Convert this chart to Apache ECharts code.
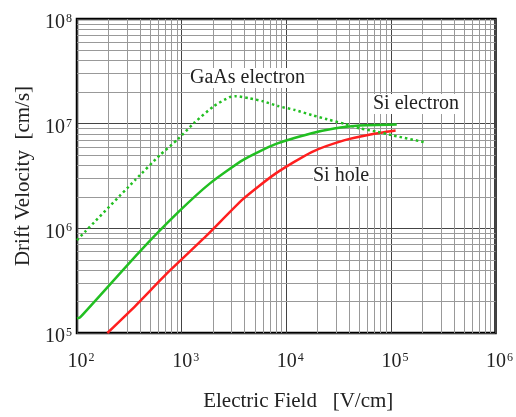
<!DOCTYPE html>
<html>
<head>
<meta charset="utf-8">
<script src="https://cdn.jsdelivr.net/npm/echarts@6/dist/echarts.min.js"></script>
<style>
  html, body { margin: 0; padding: 0; background: #fff; }
  #chart { width: 516px; height: 417px; }
</style>
</head>
<body>
<div id="chart"></div>
<script>
// Electric field [V/cm] and drift velocity [cm/s] samples for each carrier
const siElectronField = [100, 107, 388, 918, 1866, 3880, 7890, 17500, 28700, 47100, 113800];
const siElectronVel   = [1.38e5, 1.41e5, 5.84e5, 1.41e6, 2.69e6, 4.51e6, 6.37e6, 8.1e6, 9.0e6, 9.57e6, 9.8e6];

const siHoleField = [195, 364, 740, 1750, 3880, 7890, 17500, 35600, 63700, 111000];
const siHoleVel   = [1.0e5, 1.83e5, 3.79e5, 8.6e5, 1.91e6, 3.33e6, 5.36e6, 6.93e6, 7.89e6, 8.6e6];

const gaasField = [100, 364, 622, 918, 1321, 2030, 2870, 3340, 4410, 5970, 8420, 12130, 17500, 24700, 35600, 51300, 72400, 104500, 212000];
const gaasVel   = [7.73e5, 2.93e6, 5.02e6, 7.08e6, 1.02e7, 1.47e7, 1.79e7, 1.83e7, 1.75e7, 1.64e7, 1.47e7, 1.35e7, 1.21e7, 1.10e7, 1.0e7, 8.98e6, 8.41e6, 7.72e6, 6.64e6];

// Decade exponents shown on the axes
const xTickExps = [2, 3, 4, 5, 6];
const yTickExps = [5, 6, 7, 8];

const seriesNames = ['Si electron', 'Si hole', 'GaAs electron'];

const pair = (xs, ys) => xs.map((x, i) => [x, ys[i]]);

// Intermediate log-grid values (2..9 within every decade)
function minorValues(exps) {
  const out = [];
  for (let e = exps[0]; e < exps[exps.length - 1]; e++) {
    for (let m = 2; m <= 9; m++) out.push(m * Math.pow(10, e));
  }
  return out;
}
const minorLines = [
  ...minorValues(xTickExps).map(v => ({ xAxis: v })),
  ...minorValues(yTickExps).map(v => ({ yAxis: v }))
];

const powLabel = v => '{b|10}{s|' + Math.round(Math.log10(v)) + '}';
const serif = '"Liberation Serif", "DejaVu Serif", serif';
const labelRich = {
  b: { fontFamily: serif, fontSize: 20, color: '#222' },
  s: { fontFamily: serif, fontSize: 12, color: '#222', verticalAlign: 'top', padding: [0, 0, 0, 1] }
};

const GREEN = '#22bf22';
const RED = '#ff1f1f';

const chart = echarts.init(document.getElementById('chart'), null, { renderer: 'canvas' });
chart.setOption({
  animation: false,
  backgroundColor: '#fff',
  grid: {
    left: 77, top: 19, right: 10, bottom: 77,
    show: true, borderColor: '#000', borderWidth: 2.5, backgroundColor: 'transparent'
  },
  xAxis: {
    type: 'log', logBase: 10,
    min: Math.pow(10, xTickExps[0]), max: Math.pow(10, xTickExps[xTickExps.length - 1]),
    name: 'Electric Field   [V/cm]',
    nameLocation: 'middle', nameGap: 58,
    nameTextStyle: { fontFamily: serif, fontSize: 21, color: '#222', padding: [0, 0, 0, 24] },
    axisLine: { show: false },
    axisTick: { show: false },
    axisLabel: { formatter: powLabel, rich: labelRich, margin: 19, padding: [0, 0, 0, 8] },
    splitLine: { show: true, lineStyle: { color: '#444', width: 1 } },
    minorSplitLine: { show: false }
  },
  yAxis: {
    type: 'log', logBase: 10,
    min: Math.pow(10, yTickExps[0]), max: Math.pow(10, yTickExps[yTickExps.length - 1]),
    name: 'Drift Velocity  [cm/s]',
    nameLocation: 'middle', nameGap: 43, nameRotate: 90,
    nameTextStyle: { fontFamily: serif, fontSize: 21, color: '#222' },
    axisLine: { show: false },
    axisTick: { show: false },
    axisLabel: { formatter: powLabel, rich: labelRich, margin: 5, padding: [8, 0, 0, 0] },
    splitLine: { show: true, lineStyle: { color: '#444', width: 1 } }
  },
  series: [
    {
      // minor log grid
      type: 'line', data: [], z: 1, silent: true,
      markLine: {
        silent: true, symbol: 'none', animation: false,
        label: { show: false },
        lineStyle: { color: '#999', width: 1, type: 'solid' },
        data: minorLines
      }
    },
    {
      name: seriesNames[0], type: 'line', z: 5,
      data: pair(siElectronField, siElectronVel),
      showSymbol: false, smooth: 0.2,
      lineStyle: { color: GREEN, width: 2.5 }
    },
    {
      name: seriesNames[1], type: 'line', z: 5,
      data: pair(siHoleField, siHoleVel),
      showSymbol: false, smooth: 0.2,
      lineStyle: { color: RED, width: 2.5 }
    },
    {
      name: seriesNames[2], type: 'line', z: 5,
      data: pair(gaasField, gaasVel),
      showSymbol: false, smooth: 0.2,
      lineStyle: { color: GREEN, width: 2.5, type: [2.5, 3] }
    }
  ],
  graphic: [
    { type: 'text', left: 190, top: 68, z: 10,
      style: { text: seriesNames[2], font: '20px ' + serif, fill: '#222', backgroundColor: '#fff' } },
    { type: 'text', left: 373, top: 94, z: 10,
      style: { text: seriesNames[0], font: '20px ' + serif, fill: '#222', backgroundColor: '#fff' } },
    { type: 'text', left: 313, top: 166, z: 10,
      style: { text: seriesNames[1], font: '20px ' + serif, fill: '#222', backgroundColor: '#fff' } }
  ]
});
</script>
</body>
</html>
